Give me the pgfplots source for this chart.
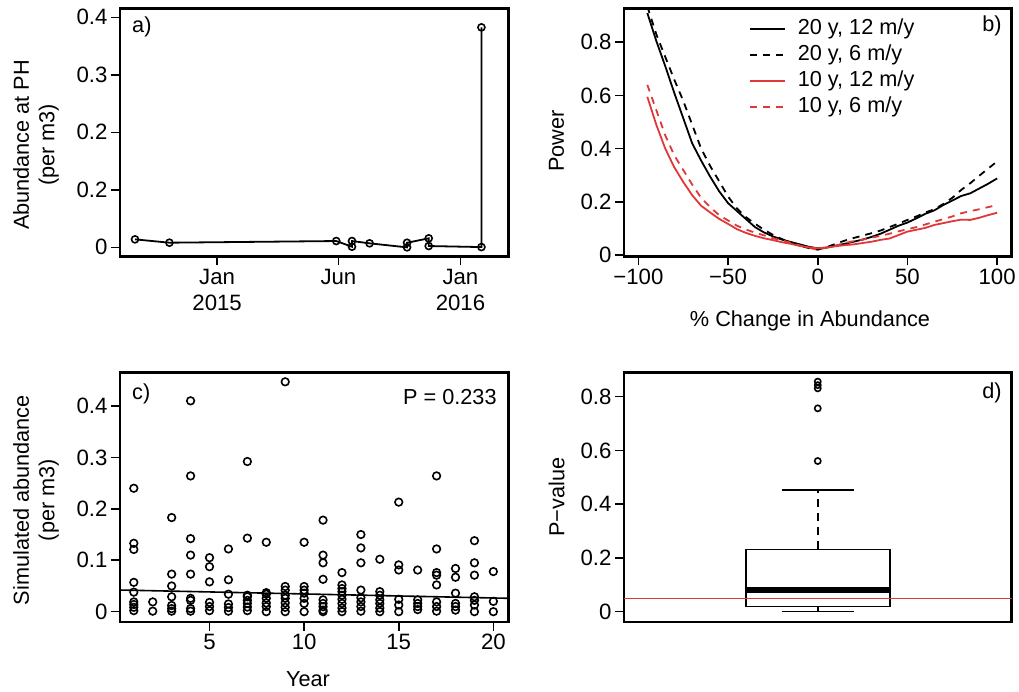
\documentclass[border=0pt]{standalone}
\usepackage{fontspec}
\setmainfont{Liberation Sans}
\usepackage{pgfplots}
\pgfplotsset{compat=1.18}
\definecolor{rred}{RGB}{224,56,56}
\newcommand{\ff}{\fontsize{21.7}{25.5}\selectfont}
\newcommand{\tf}{\fontsize{22.2}{26}\selectfont}
\tikzset{rlabel/.style={inner sep=0pt, font=\ff}}
\pgfplotsset{
  rstyle/.style={
    scale only axis,
    anchor=south west,
    axis line style={line width=2.1pt},
    tick align=outside,
    major tick length=9pt,
    every tick/.style={black, line width=1.6pt},
    xtick pos=left, ytick pos=left,
    font=\ff,
    tick label style={font=\tf},
    label style={font=\ff},
    clip=true,
  },
}
\pgfplotstableread{
x y
-123.2 0.0139
-71.6 0.0081
178.7 0.0110
202.3 0.0011
202.3 0.0110
228.7 0.0070
284.9 0.0000
284.9 0.0080
317.4 0.0157
317.4 0.0023
396.5 0.0005
396.5 0.3826
}\tabA
\pgfplotstableread{
x bs bd rs rd
-95 0.910 0.935 0.595 0.640
-90 0.805 0.830 0.490 0.545
-85 0.710 0.745 0.400 0.450
-80 0.610 0.660 0.330 0.375
-75 0.515 0.580 0.275 0.320
-70 0.420 0.490 0.225 0.265
-65 0.355 0.400 0.185 0.215
-60 0.295 0.335 0.160 0.180
-55 0.240 0.278 0.136 0.150
-50 0.195 0.220 0.117 0.130
-45 0.165 0.175 0.097 0.110
-40 0.135 0.142 0.083 0.096
-35 0.105 0.118 0.072 0.084
-30 0.085 0.095 0.063 0.074
-25 0.070 0.076 0.056 0.063
-20 0.058 0.060 0.048 0.055
-15 0.049 0.046 0.042 0.046
-10 0.040 0.035 0.034 0.036
-5 0.031 0.026 0.029 0.027
0 0.025 0.020 0.025 0.020
5 0.028 0.030 0.028 0.028
10 0.035 0.042 0.033 0.035
15 0.042 0.054 0.037 0.045
20 0.050 0.064 0.040 0.052
25 0.058 0.073 0.045 0.058
30 0.068 0.082 0.050 0.065
35 0.080 0.092 0.057 0.072
40 0.095 0.105 0.062 0.080
45 0.110 0.118 0.075 0.089
50 0.122 0.132 0.088 0.097
55 0.138 0.145 0.095 0.105
60 0.155 0.160 0.102 0.115
65 0.168 0.172 0.113 0.125
70 0.188 0.192 0.120 0.135
75 0.205 0.215 0.127 0.145
80 0.222 0.245 0.133 0.157
85 0.232 0.270 0.132 0.165
90 0.250 0.298 0.140 0.172
95 0.268 0.325 0.150 0.180
100 0.288 0.352 0.159 0.188
}\tabB
\pgfplotstableread{
x y
1 0.240
1 0.133
1 0.121
1 0.057
1 0.038
1 0.019
1 0.014
1 0.0085
1 0.002
2 0.019
2 0.001
3 0.183
3 0.073
3 0.050
3 0.029
3 0.012
3 0.006
3 0.001
4 0.410
4 0.264
4 0.142
4 0.110
4 0.073
4 0.026
4 0.022
4 0.006
4 0.001
5 0.105
5 0.0875
5 0.058
5 0.018
5 0.010
5 0.002
6 0.122
6 0.062
6 0.034
6 0.015
6 0.008
6 0.001
7 0.292
7 0.143
7 0.032
7 0.029
7 0.022
7 0.016
7 0.009
7 0.002
8 0.135
8 0.037
8 0.034
8 0.026
8 0.017
8 0.010
8 0.000
9 0.447
9 0.049
9 0.042
9 0.032
9 0.026
9 0.017
9 0.0085
9 0.000
10 0.135
10 0.049
10 0.042
10 0.036
10 0.026
10 0.016
10 0.000
11 0.178
11 0.110
11 0.095
11 0.063
11 0.023
11 0.016
11 0.0097
11 0.003
11 0.000
12 0.076
12 0.052
12 0.045
12 0.039
12 0.032
12 0.024
12 0.016
12 0.007
12 0.000
13 0.150
13 0.124
13 0.095
13 0.042
13 0.027
13 0.019
13 0.010
13 0.001
14 0.102
14 0.039
14 0.032
14 0.023
14 0.016
14 0.007
14 0.000
15 0.213
15 0.091
15 0.081
15 0.024
15 0.013
15 0.000
16 0.081
16 0.023
16 0.016
16 0.010
16 0.004
17 0.264
17 0.122
17 0.076
17 0.071
17 0.052
17 0.019
17 0.010
17 0.001
18 0.084
18 0.067
18 0.036
18 0.016
18 0.010
18 0.003
19 0.138
19 0.095
19 0.071
19 0.029
19 0.022
19 0.013
19 0.000
20 0.078
20 0.020
20 0.000
}\tabC
\begin{document}
\begin{tikzpicture}
\useasboundingbox (0pt,0pt) rectangle (1019pt,691pt);
% ---------- a ----------
\begin{axis}[rstyle, at={(120pt,434.5pt)}, width=388.5pt, height=248pt,
  xmin=-145.7, xmax=437.1, ymin=-0.0159, ymax=0.4154,
  xtick={0,182,365}, xticklabels={Jan\\2015,Jun,Jan\\2016},
  xticklabel style={align=center},
  ytick={0,0.1,0.2,0.3,0.4}, yticklabels={0,0.2,0.2,0.3,0.4},
  ylabel={Abundance at PH\\(per m3)},
  ylabel style={align=center, at={(axis description cs:-0.216,0.45)}, anchor=center}]
\addplot[black, line width=1.8pt, mark=o, mark size=3.5pt, mark options={line width=1.6pt}] table[x=x,y=y] {\tabA};
\node[rlabel, anchor=west] at (rel axis cs:0.031,0.927) {a)};
\end{axis}
% ---------- b ----------
\begin{axis}[rstyle, at={(624pt,434.5pt)}, width=387.5pt, height=248pt,
  xmin=-108, xmax=108, ymin=-0.0056, ymax=0.927,
  xtick={-100,-50,0,50,100}, xticklabels={−100,−50,0,50,100},
  ytick={0,0.2,0.4,0.6,0.8}, yticklabels={0,0.2,0.4,0.6,0.8},
  ylabel={Power},
  ylabel style={at={(axis description cs:-0.174,0.466)}, anchor=center},
  xlabel={\% Change in Abundance},
  xlabel style={at={(axis description cs:0.48,-0.283)}, anchor=base},
  legend style={at={(rel axis cs:0.322,0.958)}, anchor=north west, draw=none, fill=none,
    font=\ff, row sep=6pt, column sep=11pt, inner sep=0pt,
    nodes={inner sep=1pt, text height=14pt, text depth=4pt}},
  legend cell align=left,
  legend image code/.code={\draw[#1] (0pt,0pt) -- (35pt,0pt);}]
\addplot[black, line width=1.8pt] table[x=x,y=bs] {\tabB};
\addlegendentry{20 y, 12 m/y}
\addplot[black, line width=1.8pt, dash pattern=on 7pt off 6pt] table[x=x,y=bd] {\tabB};
\addlegendentry{20 y, 6 m/y}
\addplot[rred, line width=1.8pt] table[x=x,y=rs] {\tabB};
\addlegendentry{10 y, 12 m/y}
\addplot[rred, line width=1.8pt, dash pattern=on 7pt off 6pt] table[x=x,y=rd] {\tabB};
\addlegendentry{10 y, 6 m/y}
\node[rlabel, anchor=east] at (rel axis cs:0.975,0.930) {b)};
\end{axis}
% ---------- c ----------
\begin{axis}[rstyle, at={(120pt,69.3pt)}, width=388.5pt, height=249.2pt,
  xmin=0.27, xmax=20.8, ymin=-0.0195, ymax=0.4651,
  xtick={5,10,15,20}, xticklabels={5,10,15,20},
  ytick={0,0.1,0.2,0.3,0.4}, yticklabels={0,0.1,0.2,0.3,0.4},
  ylabel={Simulated abundance\\(per m3)},
  ylabel style={align=center, at={(axis description cs:-0.216,0.488)}, anchor=center},
  xlabel={Year},
  xlabel style={at={(axis description cs:0.484,-0.261)}, anchor=base}]
\addplot[only marks, mark=o, mark size=3.8pt, mark options={line width=1.6pt, black}] table[x=x,y=y] {\tabC};
\addplot[black, line width=1.6pt] coordinates {(0.27,0.0421)(20.8,0.026)};
\node[rlabel, anchor=west] at (rel axis cs:0.031,0.914) {c)};
\node[rlabel, anchor=east] at (rel axis cs:0.970,0.903) {P = 0.233};
\end{axis}
% ---------- d ----------
\begin{axis}[rstyle, at={(624pt,69.3pt)}, width=387.5pt, height=249.2pt,
  xmin=0, xmax=1, ymin=-0.0373, ymax=0.890,
  xtick=\empty,
  ytick={0,0.2,0.4,0.6,0.8}, yticklabels={0,0.2,0.4,0.6,0.8},
  ylabel={P−value},
  ylabel style={at={(axis description cs:-0.174,0.50)}, anchor=center}]
\addplot[black, line width=1.6pt, dash pattern=on 8pt off 6pt] coordinates {(0.5,0.232)(0.5,0.453)};
\addplot[black, line width=1.6pt, dash pattern=on 8pt off 6pt] coordinates {(0.5,0.0186)(0.5,0)};
\addplot[black, line width=1.6pt] coordinates {(0.4068,0.453)(0.5925,0.453)};
\addplot[black, line width=1.6pt] coordinates {(0.4068,0)(0.5925,0)};
\addplot[black, line width=1.6pt, line cap=rect] coordinates {(0.3147,0.0186)(0.686,0.0186)(0.686,0.232)(0.3147,0.232)(0.3147,0.0186)};
\addplot[black, line width=5.8pt] coordinates {(0.3147,0.081)(0.686,0.081)};
\addplot[only marks, mark=o, mark size=3.1pt, mark options={line width=1.6pt, black}] coordinates {(0.5,0.5606)(0.5,0.7566)(0.5,0.831)(0.5,0.843)(0.5,0.856)};
\addplot[rred, line width=1.4pt] coordinates {(0,0.05)(1,0.05)};
\node[rlabel, anchor=east] at (rel axis cs:0.975,0.92) {d)};
\end{axis}
\end{tikzpicture}
\end{document}
